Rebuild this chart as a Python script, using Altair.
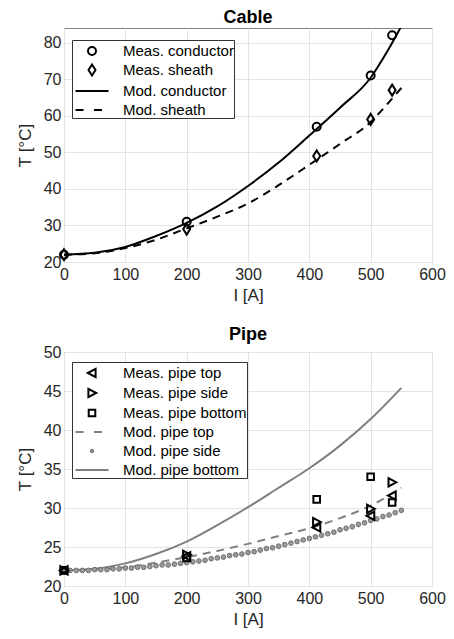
import altair as alt
import pandas as pd

# ---------------- data ----------------
I_meas = [0, 200, 412, 500, 535]

cond_meas = [22, 31, 57, 71, 82]
sheath_meas = [22, 29, 49, 59, 67]

I_mod = [0, 50, 100, 150, 200, 250, 300, 350, 400, 450, 500, 525, 550]
cond_mod = [22, 22.5, 24.1, 27.1, 30.7, 35.2, 40.8, 47.2, 54.6, 62.2, 70.4, 77.0, 84.5]
sheath_mod = [22, 22.4, 23.8, 26.1, 29.2, 32.4, 36.0, 41.0, 46.6, 52.3, 58.3, 62.8, 67.6]

pipe_top_meas = [22, 23.8, 27.5, 29.0, 31.6]
pipe_side_meas = [22, 24.0, 28.2, 29.9, 33.3]
pipe_bottom_meas = [22, 23.6, 31.1, 34.0, 30.7]

I_pipe_mod = [0, 50, 100, 150, 200, 250, 300, 350, 400, 450, 500, 550]
pipe_top_mod = [22, 22.1, 22.4, 23.0, 23.7, 24.5, 25.4, 26.4, 27.4, 28.7, 30.3, 32.6]
pipe_bottom_mod = [22, 22.2, 22.9, 24.1, 25.7, 27.8, 30.1, 32.6, 35.1, 38.0, 41.4, 45.4]

I_side = [0, 10, 20, 30, 40, 50, 60, 70, 80, 90,
          100, 110, 120, 130, 140, 150, 160, 170, 180, 190,
          200, 210, 220, 230, 240, 250, 260, 270, 280, 290,
          300, 310, 320, 330, 340, 350, 360, 370, 380, 390,
          400, 410, 420, 430, 440, 450, 460, 470, 480, 490,
          500, 510, 520, 530, 540, 550]
pipe_side_mod = [22.0, 22.0, 22.0, 22.0, 22.0, 22.1, 22.1, 22.1, 22.2, 22.2,
                 22.3, 22.3, 22.4, 22.4, 22.5, 22.6, 22.7, 22.7, 22.8, 22.9,
                 23.0, 23.1, 23.2, 23.3, 23.5, 23.6, 23.7, 23.9, 24.0, 24.1,
                 24.3, 24.4, 24.6, 24.8, 24.9, 25.1, 25.3, 25.5, 25.7, 25.9,
                 26.1, 26.3, 26.5, 26.7, 26.9, 27.2, 27.4, 27.6, 27.9, 28.1,
                 28.4, 28.6, 28.9, 29.1, 29.4, 29.7]

cable_names = ["Meas. conductor", "Meas. sheath", "Mod. conductor", "Mod. sheath"]
pipe_names = ["Meas. pipe top", "Meas. pipe side", "Meas. pipe bottom",
              "Mod. pipe top", "Mod. pipe side", "Mod. pipe bottom"]

x_ticks = [0, 100, 200, 300, 400, 500, 600]
cable_y_ticks = [20, 30, 40, 50, 60, 70, 80]
pipe_y_ticks = [20, 25, 30, 35, 40, 45, 50]

# ---------------- marker / legend symbol shapes ----------------
CIRCLE = "M-0.4,0A0.4,0.4,0,1,1,0.4,0A0.4,0.4,0,1,1,-0.4,0Z"
DIAMOND = "M0,-0.55L0.35,0L0,0.55L-0.35,0Z"
TRI_LEFT = "M-0.42,0L0.36,-0.42L0.36,0.42Z"
TRI_RIGHT = "M0.42,0L-0.36,-0.42L-0.36,0.42Z"
SQUARE = "M-0.33,-0.33H0.33V0.33H-0.33Z"
SOLID = "M-1.65,0H1.65"
DASHED = "M-1.65,0H-0.85M0.2,0H1.0"
DOT = "M-0.12,0A0.12,0.12,0,1,1,0.12,0A0.12,0.12,0,1,1,-0.12,0Z"

GRAY = "#808080"
FONT = "Liberation Sans"
PW, PH = 368, 234


def legend_channels(names, shapes, strokes, fills, ly):
    leg = alt.Legend(
        title=None, orient="none", legendX=8, legendY=ly,
        fillColor="white", strokeColor="#333333", padding=0,
        symbolSize=400, symbolStrokeWidth=2, symbolOffset=9,
        labelOffset=20, labelFontSize=15, labelFont=FONT, labelColor="black",
        rowPadding=0, labelLimit=300,
    )
    return dict(
        shape=alt.Shape("series:N", scale=alt.Scale(domain=names, range=shapes), legend=leg),
        stroke=alt.Stroke("series:N", scale=alt.Scale(domain=names, range=strokes), legend=leg),
        fill=alt.Fill("series:N", scale=alt.Scale(domain=names, range=fills), legend=leg),
    )


def axes(ydom, yticks):
    x = alt.X("I:Q", scale=alt.Scale(domain=[0, 600], nice=False),
              axis=alt.Axis(values=x_ticks, title="I [A]"))
    y = alt.Y("T:Q", scale=alt.Scale(domain=ydom, nice=False, zero=False),
              axis=alt.Axis(values=yticks, title="T [°C]"))
    return x, y


# ---------------- Cable panel ----------------
cable_meas = pd.DataFrame({
    "I": I_meas + I_meas,
    "T": cond_meas + sheath_meas,
    "series": ["Meas. conductor"] * len(I_meas) + ["Meas. sheath"] * len(I_meas),
})
cable_cond = pd.DataFrame({"I": I_mod, "T": cond_mod})
cable_sheath = pd.DataFrame({"I": I_mod, "T": sheath_mod})

cx, cy = axes([20, 84], cable_y_ticks)

c_cond = alt.Chart(cable_cond).mark_line(color="black", strokeWidth=2, clip=True,
                                         interpolate="monotone").encode(x=cx, y=cy)
c_sheath = alt.Chart(cable_sheath).mark_line(color="black", strokeWidth=2, clip=True,
                                             strokeDash=[8, 6], interpolate="monotone").encode(x=cx, y=cy)
c_pts = alt.Chart(cable_meas).mark_point(size=400, strokeWidth=2, filled=False, opacity=1).encode(
    x=cx, y=cy,
    **legend_channels(cable_names, [CIRCLE, DIAMOND, SOLID, DASHED],
                      ["black"] * 4, ["transparent"] * 4, 12),
)
cable = alt.layer(c_cond, c_sheath, c_pts).properties(
    width=PW, height=PH,
    title=alt.TitleParams("Cable", fontSize=18, fontWeight="bold", font=FONT, offset=0, color="black"),
)

# ---------------- Pipe panel ----------------
pipe_meas = pd.DataFrame({
    "I": I_meas * 3,
    "T": pipe_top_meas + pipe_side_meas + pipe_bottom_meas,
    "series": ["Meas. pipe top"] * 5 + ["Meas. pipe side"] * 5 + ["Meas. pipe bottom"] * 5,
})
p_top_df = pd.DataFrame({"I": I_pipe_mod, "T": pipe_top_mod})
p_bot_df = pd.DataFrame({"I": I_pipe_mod, "T": pipe_bottom_mod})
p_side_df = pd.DataFrame({"I": I_side, "T": pipe_side_mod})

px, py = axes([20, 50], pipe_y_ticks)

p_bot = alt.Chart(p_bot_df).mark_line(color=GRAY, strokeWidth=2, interpolate="monotone").encode(x=px, y=py)
p_top = alt.Chart(p_top_df).mark_line(color=GRAY, strokeWidth=2, strokeDash=[8, 6],
                                      interpolate="monotone").encode(x=px, y=py)
p_side = alt.Chart(p_side_df).mark_point(shape="circle", size=22, filled=True, fill="#9a9a9a",
                                         stroke="#6e6e6e", strokeWidth=1, opacity=1).encode(x=px, y=py)
p_pts = alt.Chart(pipe_meas).mark_point(size=400, strokeWidth=2, filled=False, opacity=1).encode(
    x=px, y=py,
    **legend_channels(pipe_names, [TRI_LEFT, TRI_RIGHT, SQUARE, DASHED, DOT, SOLID],
                      ["black", "black", "black", GRAY, GRAY, GRAY],
                      ["transparent", "transparent", "transparent", "transparent", GRAY, "transparent"], 10),
)
pipe = alt.layer(p_bot, p_top, p_side, p_pts).properties(
    width=PW, height=PH,
    title=alt.TitleParams("Pipe", fontSize=18, fontWeight="bold", font=FONT, offset=0, color="black"),
)

chart = alt.vconcat(cable, pipe, spacing=21).resolve_scale(
    shape="independent", stroke="independent", fill="independent"
).resolve_legend(
    shape="independent", stroke="independent", fill="independent"
).properties(
    padding={"left": 7, "top": 0, "right": 0, "bottom": 0},
).configure(
    font=FONT,
).configure_view(
    stroke="#808080", strokeWidth=1,
).configure_axis(
    grid=True, gridColor="#e3e3e3", gridWidth=1,
    domain=False, ticks=False, labelFlush=False,
    labelFontSize=16, labelColor="#262626", labelFont=FONT,
    titleFontSize=17, titleColor="#262626", titleFont=FONT, titleFontWeight="normal",
).configure_axisX(
    labelPadding=4, titlePadding=5,
).configure_axisY(
    labelPadding=3, titlePadding=9,
)

chart.save("out.html", embed_options={"renderer": "svg", "actions": False})
